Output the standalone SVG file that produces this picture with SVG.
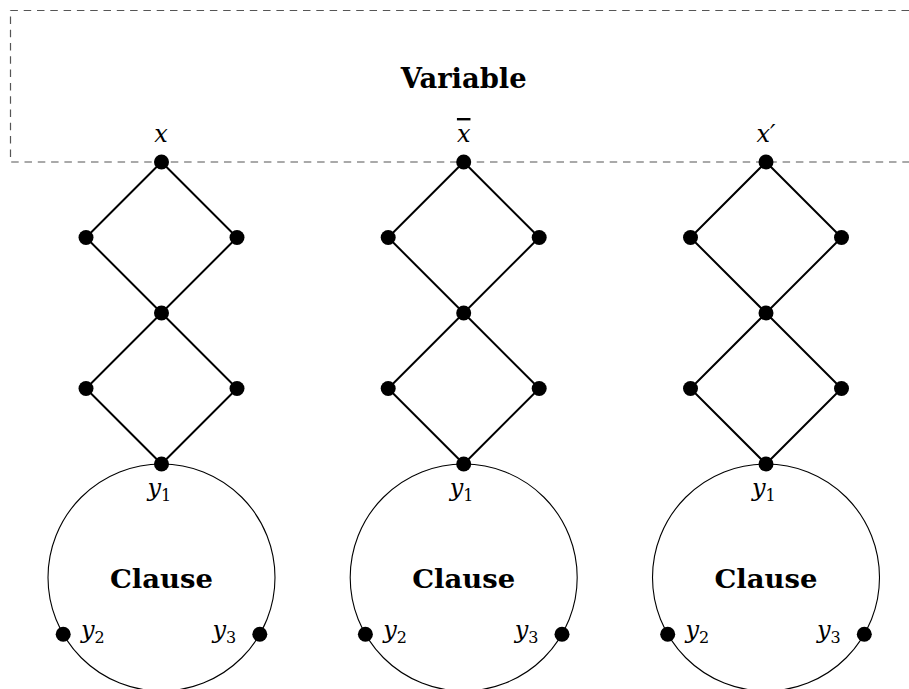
<svg xmlns="http://www.w3.org/2000/svg" width="909" height="689" viewBox="0 0 909 689">
<defs>
<style>
.frame{fill:none;stroke:#555;stroke-width:1.2;stroke-dasharray:7.5 5.8}
.edge{stroke:#000;stroke-width:2;fill:none}
.clause{fill:none;stroke:#000;stroke-width:1.1}
.dot{fill:#000}
.math{font-family:"DejaVu Serif",serif;font-style:italic;font-size:24px;fill:#000}
.sub{font-style:normal;font-size:16px}
.title{font-family:"DejaVu Serif",serif;font-weight:bold;fill:#000;text-anchor:middle}
</style>
</defs>
<rect width="909" height="689" fill="#fff"/>
<g id="variable">
<path class="frame" d="M909 10.5 H10.5 V162 H909"/>
<text class="title" font-size="27" x="463.7" y="88" textLength="126" lengthAdjust="spacingAndGlyphs">Variable</text>
</g>
<g id="connectors">
<path class="edge" d="M161.5 162 L86 237.5 L161.5 313 L86 388.5 L161.5 464 M161.5 162 L237 237.5 L161.5 313 L237 388.5 L161.5 464"/>
<path class="edge" d="M463.7 162 L388.2 237.5 L463.7 313 L388.2 388.5 L463.7 464 M463.7 162 L539.2 237.5 L463.7 313 L539.2 388.5 L463.7 464"/>
<path class="edge" d="M766 162 L690.5 237.5 L766 313 L690.5 388.5 L766 464 M766 162 L841.5 237.5 L766 313 L841.5 388.5 L766 464"/>
</g>
<g id="clause1">
<circle class="clause" cx="161.5" cy="577.5" r="113.5"/>
<text class="title" font-size="26" x="161.5" y="588" textLength="103" lengthAdjust="spacingAndGlyphs">Clause</text>
</g>
<g id="clause2">
<circle class="clause" cx="463.7" cy="577.5" r="113.5"/>
<text class="title" font-size="26" x="463.7" y="588" textLength="103" lengthAdjust="spacingAndGlyphs">Clause</text>
</g>
<g id="clause3">
<circle class="clause" cx="766" cy="577.5" r="113.5"/>
<text class="title" font-size="26" x="766" y="588" textLength="103" lengthAdjust="spacingAndGlyphs">Clause</text>
</g>
<g id="gadget1">
<circle class="dot" cx="161.5" cy="162" r="7.5"/>
<text class="math" x="161" y="142" text-anchor="middle">x</text>
<circle class="dot" cx="86" cy="237.5" r="7.5"/>
<circle class="dot" cx="237" cy="237.5" r="7.5"/>
<circle class="dot" cx="161.5" cy="313" r="7.5"/>
<circle class="dot" cx="86" cy="388.5" r="7.5"/>
<circle class="dot" cx="237" cy="388.5" r="7.5"/>
<circle class="dot" cx="161.5" cy="464" r="7.5"/>
<text class="math" x="147.5" y="495.5">y<tspan class="sub" dy="5">1</tspan></text>
<circle class="dot" cx="63.2" cy="634.3" r="7.5"/>
<text class="math" x="81" y="637.5">y<tspan class="sub" dy="5">2</tspan></text>
<circle class="dot" cx="259.8" cy="634.3" r="7.5"/>
<text class="math" x="212.5" y="637.5">y<tspan class="sub" dy="5">3</tspan></text>
</g>
<g id="gadget2">
<circle class="dot" cx="463.7" cy="162" r="7.5"/>
<text class="math" x="463.7" y="142" text-anchor="middle" text-decoration="overline">x</text>
<circle class="dot" cx="388.2" cy="237.5" r="7.5"/>
<circle class="dot" cx="539.2" cy="237.5" r="7.5"/>
<circle class="dot" cx="463.7" cy="313" r="7.5"/>
<circle class="dot" cx="388.2" cy="388.5" r="7.5"/>
<circle class="dot" cx="539.2" cy="388.5" r="7.5"/>
<circle class="dot" cx="463.7" cy="464" r="7.5"/>
<text class="math" x="449.7" y="495.5">y<tspan class="sub" dy="5">1</tspan></text>
<circle class="dot" cx="365.4" cy="634.3" r="7.5"/>
<text class="math" x="383.2" y="637.5">y<tspan class="sub" dy="5">2</tspan></text>
<circle class="dot" cx="562" cy="634.3" r="7.5"/>
<text class="math" x="514.7" y="637.5">y<tspan class="sub" dy="5">3</tspan></text>
</g>
<g id="gadget3">
<circle class="dot" cx="766" cy="162" r="7.5"/>
<text class="math" x="766" y="142" text-anchor="middle">x′</text>
<circle class="dot" cx="690.5" cy="237.5" r="7.5"/>
<circle class="dot" cx="841.5" cy="237.5" r="7.5"/>
<circle class="dot" cx="766" cy="313" r="7.5"/>
<circle class="dot" cx="690.5" cy="388.5" r="7.5"/>
<circle class="dot" cx="841.5" cy="388.5" r="7.5"/>
<circle class="dot" cx="766" cy="464" r="7.5"/>
<text class="math" x="752" y="495.5">y<tspan class="sub" dy="5">1</tspan></text>
<circle class="dot" cx="667.7" cy="634.3" r="7.5"/>
<text class="math" x="685.5" y="637.5">y<tspan class="sub" dy="5">2</tspan></text>
<circle class="dot" cx="864.3" cy="634.3" r="7.5"/>
<text class="math" x="817" y="637.5">y<tspan class="sub" dy="5">3</tspan></text>
</g>
</svg>
